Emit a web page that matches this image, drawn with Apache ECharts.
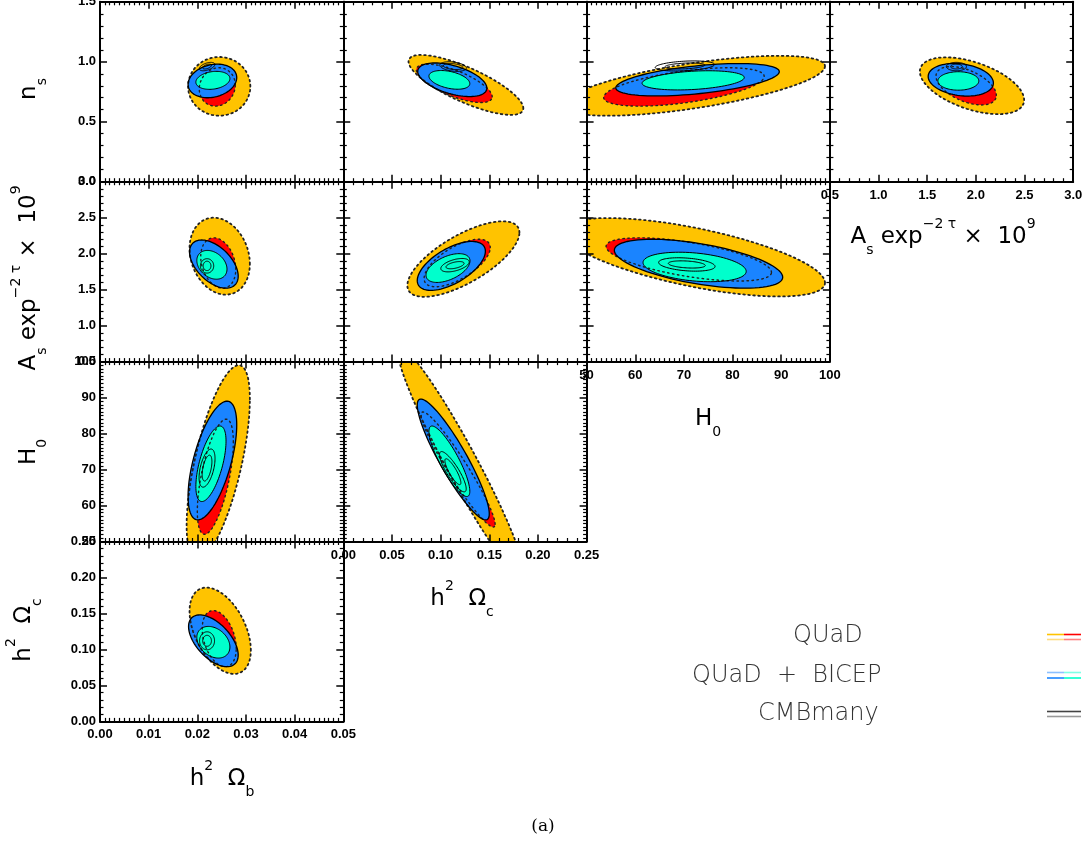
<!DOCTYPE html>
<html><head><meta charset="utf-8">
<script src="https://cdn.jsdelivr.net/npm/echarts@6/dist/echarts.min.js"></script>
<style>html,body{margin:0;padding:0;background:#fff}#c{width:1087px;height:848px}</style>
</head><body><div id="c"></div>
<script>
// ---------- axes ----------
const rowParams = ['ns', 'As', 'H0', 'Oc'];
const colParams = ['Ob', 'Oc', 'H0', 'As'];
const axisMin = { Ob: 0, Oc: 0, H0: 50, As: 0.5, ns: 0 };
const axisMax = { Ob: 0.05, Oc: 0.25, H0: 100, As: 3.0, ns: 1.5 };
const axisStep = { Ob: 0.01, Oc: 0.05, H0: 10, As: 0.5, ns: 0.5 };
const axisMinorSplit = { Ob: 10, Oc: 5, H0: 10, As: 5, ns: 5 };
const axisDecimals = { Ob: 2, Oc: 2, H0: 0, As: 1, ns: 1 };
// panel cells [row, col] in lower triangle
const panelCells = [[0,0],[0,1],[0,2],[0,3],[1,0],[1,1],[1,2],[2,0],[2,1],[3,0]];

// ---------- contours: [centerX, centerY, halfWidthX, halfHeightY, correlation] per panel ----------
const quad95 = [
  [0.0245, 0.795, 0.0064, 0.245, 0.0],
  [0.126, 0.807, 0.059, 0.25, -0.78],
  [72, 0.80, 27, 0.25, 0.65],
  [1.96, 0.80, 0.536, 0.237, -0.5],
  [0.0246, 1.965, 0.0062, 0.535, -0.2],
  [0.1234, 1.925, 0.0576, 0.525, 0.7],
  [72, 1.95, 27, 0.545, -0.65],
  [0.0243, 72, 0.0065, 27, 0.65],
  [0.121, 72, 0.065, 32, -0.96],
  [0.0247, 0.126, 0.0063, 0.06, -0.45]
];
const quad68 = [
  [0.0241, 0.79, 0.0037, 0.16, 0.1],
  [0.114, 0.82, 0.039, 0.16, -0.7],
  [70, 0.79, 16.5, 0.16, 0.55],
  [1.9, 0.80, 0.31, 0.16, -0.5],
  [0.0243, 1.87, 0.0036, 0.35, -0.25],
  [0.117, 1.87, 0.034, 0.33, 0.65],
  [71, 1.92, 17, 0.30, -0.6],
  [0.0237, 68, 0.0037, 16, 0.6],
  [0.118, 70, 0.038, 16, -0.95],
  [0.0245, 0.115, 0.0035, 0.039, -0.35]
];
const bicep95 = [
  [0.0231, 0.84, 0.0050, 0.14, 0.2],
  [0.112, 0.85, 0.0355, 0.14, -0.5],
  [72.8, 0.85, 16.8, 0.135, 0.5],
  [1.845, 0.85, 0.335, 0.136, -0.2],
  [0.0234, 1.855, 0.0050, 0.335, -0.5],
  [0.111, 1.83, 0.035, 0.34, 0.6],
  [73, 1.86, 17.3, 0.34, -0.55],
  [0.0231, 72.5, 0.0050, 16.5, 0.6],
  [0.113, 72.8, 0.037, 16.8, -0.9],
  [0.0233, 0.112, 0.0051, 0.036, -0.55]
];
const bicep68 = [
  [0.0232, 0.845, 0.0035, 0.075, 0.2],
  [0.109, 0.849, 0.021, 0.078, -0.4],
  [71.9, 0.845, 10.5, 0.08, 0.3],
  [1.82, 0.84, 0.21, 0.077, 0.0],
  [0.0230, 1.845, 0.0031, 0.20, -0.3],
  [0.1076, 1.80, 0.0226, 0.20, 0.5],
  [72.2, 1.815, 10.6, 0.205, -0.3],
  [0.0228, 71.6, 0.0031, 10.5, 0.6],
  [0.109, 72.3, 0.021, 9.8, -0.85],
  [0.0233, 0.110, 0.0034, 0.022, -0.3]
];
const cmbOuter = [
  [0.0220, 0.96, 0.0016, 0.035, 0.5],
  [0.1128, 0.96, 0.0137, 0.04, -0.3],
  [70.2, 0.965, 6.1, 0.042, 0.3],
  [1.80, 0.96, 0.103, 0.035, 0.0],
  [0.0220, 1.83, 0.00137, 0.10, 0.0],
  [0.1148, 1.84, 0.0146, 0.093, 0.5],
  [70.6, 1.85, 5.8, 0.093, -0.3],
  [0.0220, 70.4, 0.00164, 5.3, 0.5],
  [0.1126, 69.4, 0.0137, 5.6, -0.85],
  [0.0220, 0.112, 0.00154, 0.0125, 0.0]
];
const cmbInner = [
  [0.0220, 0.96, 0.0009, 0.02, 0.5],
  [0.1128, 0.96, 0.010, 0.025, -0.3],
  [70.2, 0.965, 4.1, 0.025, 0.3],
  [1.80, 0.96, 0.06, 0.02, 0.0],
  [0.0220, 1.83, 0.0008, 0.065, 0.0],
  [0.1148, 1.84, 0.0093, 0.05, 0.5],
  [70.6, 1.85, 3.8, 0.05, -0.3],
  [0.0220, 70.4, 0.0010, 3.6, 0.5],
  [0.1126, 69.4, 0.0082, 3.6, -0.85],
  [0.0220, 0.112, 0.0009, 0.0076, 0.0]
];
const legendNames = ['QUaD', 'QUaD  +  BICEP', 'CMBmany'];

// ---------- styles / layout ----------
const fillColors = ['#ffc300', '#ff0000', '#1a84ff', '#00ffcc'];
const lineStyles = [
  { stroke: '#222', lineWidth: 1.8, lineDash: [1.6, 3.4], lineCap: 'round' },
  { stroke: '#222', lineWidth: 1.4, lineDash: [1.5, 3.5], lineCap: 'round' },
  { stroke: '#000', lineWidth: 1.3 },
  { stroke: '#000', lineWidth: 1.0 },
  { stroke: '#000', lineWidth: 1.0 },
  { stroke: '#000', lineWidth: 1.0 }
];
const G_LEFT = 100, G_TOP = 1.8, G_W = 243.3, G_H = 179.9;

function ellipsePts(api) {
  const cx = api.value(1), cy = api.value(2), a = api.value(3), b = api.value(4), r = api.value(5);
  const s = Math.sqrt(1 - r * r);
  const pts = [];
  const N = 90;
  for (let k = 0; k < N; k++) {
    const t = 2 * Math.PI * k / N;
    const x = cx + a * Math.cos(t);
    const y = cy + b * (r * Math.cos(t) + s * Math.sin(t));
    pts.push(api.coord([x, y]));
  }
  return pts;
}
function renderFill(params, api) {
  return { type: 'polygon', shape: { points: ellipsePts(api) },
    style: { fill: fillColors[api.value(0)], stroke: null } };
}
function renderLine(params, api) {
  const st = Object.assign({ fill: null }, lineStyles[api.value(0)]);
  return { type: 'polygon', shape: { points: ellipsePts(api) }, style: st };
}

const grids = [], xAxes = [], yAxes = [], series = [];
const tickFont = { fontFamily: 'Liberation Sans', fontWeight: 'bold', fontSize: 13, color: '#000' };

function makeAxis(p, k, position, showLabel, margin) {
  return {
    type: 'value', gridIndex: k, position: position, z: 10,
    min: axisMin[p], max: axisMax[p], interval: axisStep[p],
    axisLine: { show: true, onZero: false, lineStyle: { color: '#000', width: 2 } },
    axisTick: { show: true, inside: true, length: 7, lineStyle: { color: '#000', width: 1.5 } },
    minorTick: { show: true, splitNumber: axisMinorSplit[p], length: 3.5, lineStyle: { color: '#000', width: 1.2 } },
    splitLine: { show: false }, minorSplitLine: { show: false },
    axisLabel: Object.assign({
      show: showLabel, margin: margin, showMinLabel: true, showMaxLabel: true, hideOverlap: false,
      formatter: v => Number(v).toFixed(axisDecimals[p])
    }, tickFont)
  };
}

const bottomRowOfCol = [3, 2, 1, 0];
panelCells.forEach(([r, c], k) => {
  grids.push({ left: G_LEFT + G_W * c, top: G_TOP + G_H * r, width: G_W, height: G_H, outerBoundsMode: 'none', containLabel: false });
  const xp = colParams[c], yp = rowParams[r];
  xAxes.push(makeAxis(xp, k, 'bottom', bottomRowOfCol[c] === r, 7));
  xAxes.push(makeAxis(xp, k, 'top', false, 7));
  yAxes.push(makeAxis(yp, k, 'left', c === 0, 4));
  yAxes.push(makeAxis(yp, k, 'right', false, 4));
  const fills = [quad95, quad68, bicep95, bicep68].map((arr, lvl) => [lvl].concat(arr[k]));
  const lines = [quad95, quad68, bicep95, bicep68, cmbOuter, cmbInner].map((arr, lvl) => [lvl].concat(arr[k]));
  const common = { type: 'custom', xAxisIndex: 2 * k, yAxisIndex: 2 * k, clip: true, silent: true, animation: false };
  series.push(Object.assign({ renderItem: renderFill, data: fills, z: 2 }, common));
  series.push(Object.assign({ renderItem: renderLine, data: lines, z: 3 }, common));
});

// ---------- titles ----------
const TF = 'DejaVu Sans';
const rich = {
  m: { fontFamily: TF, fontSize: 23, lineHeight: 40, color: '#222', verticalAlign: 'middle' },
  sub: { fontFamily: TF, fontSize: 14, lineHeight: 20, color: '#222', verticalAlign: 'bottom' },
  sup: { fontFamily: TF, fontSize: 14, lineHeight: 16, color: '#222', verticalAlign: 'top' },
  sup2: { fontFamily: TF, fontSize: 14, lineHeight: 30, color: '#222', verticalAlign: 'top' }
};
const titleText = {
  ns: '{m|n}{sub|s}',
  As: '{m|A}{sub|s}{m| exp}{sup|−2 τ}{m| ×  10}{sup|9}',
  H0: '{m|H}{sub|0}',
  Oc: '{m|h}{sup2|2}{m|  Ω}{sub|c}',
  Ob: '{m|h}{sup2|2}{m|  Ω}{sub|b}'
};
function title(key, x, y, rot) {
  return { type: 'text', x: x, y: y, rotation: rot, silent: true,
    style: { text: titleText[key], rich: rich, align: 'center', verticalAlign: 'middle' } };
}
const graphics = [
  title('ns', 29, 89, Math.PI / 2),
  title('As', 29, 278, Math.PI / 2),
  title('H0', 29, 452, Math.PI / 2),
  title('Oc', 24, 630, Math.PI / 2),
  title('Ob', 222, 779, 0),
  title('Oc', 462, 599, 0),
  title('H0', 708, 419, 0),
  title('As', 943, 237, 0)
];
// legend
const legendX = [793, 692, 758], legendY = [636, 676, 714];
const legendLineColors = [
  [['#ffc300', '#ff0000'], ['#ffdc80', '#ff8080']],
  [['#8cc0ff', '#80ffe6'], ['#1a84ff', '#00ffcc']],
  [['#444', '#444'], ['#999', '#999']]
];
const legendLineY = [[634.5, 639.5], [672.5, 678], [711.5, 716.5]];
legendNames.forEach((name, i) => {
  graphics.push({ type: 'text', x: legendX[i], y: legendY[i], silent: true,
    style: { text: name, fontFamily: TF, fontWeight: 200, fontSize: 24, fill: '#333', align: 'left', verticalAlign: 'middle' } });
  for (let j = 0; j < 2; j++) {
    graphics.push({ type: 'line', silent: true, shape: { x1: 1047, y1: legendLineY[i][j], x2: 1064, y2: legendLineY[i][j] },
      style: { stroke: legendLineColors[i][j][0], lineWidth: 1.6 } });
    graphics.push({ type: 'line', silent: true, shape: { x1: 1064, y1: legendLineY[i][j], x2: 1081, y2: legendLineY[i][j] },
      style: { stroke: legendLineColors[i][j][1], lineWidth: 1.6 } });
  }
});
graphics.push({ type: 'text', x: 543, y: 827, silent: true,
  style: { text: '(a)', fontFamily: 'DejaVu Serif', fontSize: 17, fill: '#000', align: 'center', verticalAlign: 'middle' } });

const chart = echarts.init(document.getElementById('c'), null, { renderer: 'canvas' });
chart.setOption({
  backgroundColor: '#fff',
  animation: false,
  grid: grids, xAxis: xAxes, yAxis: yAxes, series: series,
  graphic: { elements: graphics }
});
</script>
</body></html>
